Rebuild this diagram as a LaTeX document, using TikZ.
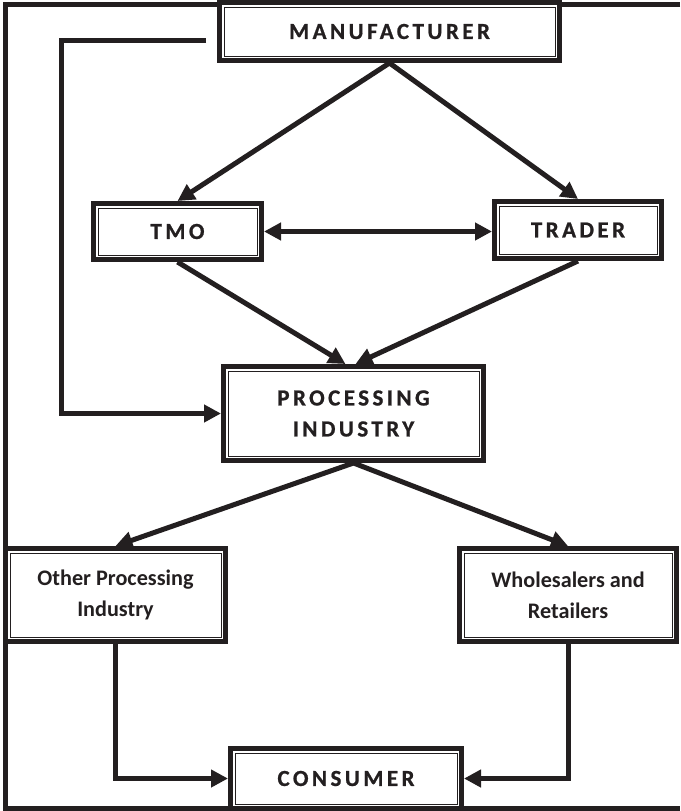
\documentclass[tikz,border=0pt]{standalone}
\usepackage{fontspec}
\setmainfont{Carlito}[BoldFont={Carlito Bold}]
\newfontfamily\capsfont{Carlito Bold}[LetterSpace=15,FakeBold=0.8]
\usetikzlibrary{arrows.meta,calc}
\definecolor{ink}{RGB}{35,31,32}
\begin{document}
\begin{tikzpicture}[x=1pt,y=-1pt,
  box/.style={draw=ink, fill=white, line width=5pt, inner sep=0pt, align=center, text=ink},
  capslabel/.style={font=\capsfont\fontsize{23}{31}\selectfont},
  plainlabel/.style={font=\bfseries\fontsize{22.2}{31}\selectfont},
  conn/.style={draw=ink, line width=5pt, -{Triangle[length=17pt,width=17pt]}},
  frameline/.style={draw=ink, line width=5pt},
  innerline/.style={draw=ink, line width=1pt}]
\useasboundingbox (0,0) rectangle (680,811);
% outer frame
\draw[frameline] (680,4.5) -- (5.5,4.5) -- (5.5,808.5) -- (680,808.5);
% boxes
\node[box, capslabel, minimum width=340pt, minimum height=58pt] (man) at (389.5,31.5) {MANUFACTURER};
\node[box, capslabel, minimum width=168pt, minimum height=56pt] (tmo) at (177.5,231.5) {TMO};
\node[box, capslabel, minimum width=167pt, minimum height=57pt] (trader) at (578,230) {TRADER};
\node[box, capslabel, minimum width=260pt, minimum height=94pt] (proc) at (353.5,413.5) {PROCESSING\\INDUSTRY};
\node[box, plainlabel, minimum width=220pt, minimum height=93pt] (other) at (115.5,595) {Other Processing\\Industry};
\node[box, plainlabel, minimum width=217pt, minimum height=93pt] (whole) at (568,595) {Wholesalers and\\Retailers};
\node[box, capslabel, minimum width=231pt, minimum height=60pt] (cons) at (346,778.5) {CONSUMER};
\foreach \n in {man,tmo,trader,proc,other,whole,cons}
  \draw[innerline] ($(\n.south west)+(7pt,7pt)$) rectangle ($(\n.north east)+(-7pt,-7pt)$);
% connectors
\draw[conn, {Triangle[length=17pt,width=17pt]}-{Triangle[length=17pt,width=17pt]}]
  (tmo.north) -- (man.south) -- (trader.north);
\draw[conn, {Triangle[length=17pt,width=17pt]}-{Triangle[length=17pt,width=17pt]}]
  (tmo.east) -- (tmo.east -| trader.west);
\draw[conn] (tmo.south) -- ([xshift=-8pt]proc.north);
\draw[conn] (trader.south) -- ([xshift=2pt]proc.north);
\draw[conn, {Triangle[length=17pt,width=17pt]}-{Triangle[length=17pt,width=17pt]}]
  (other.north) -- (proc.south) -- (whole.north);
\coordinate (lstart) at (206,40.5);
\coordinate (lx) at (61,40.5);
\draw[conn] (lstart) -- (lx) -- (lx |- proc.west) -- (proc.west);
\draw[conn] (other.south) |- (cons.west);
\draw[conn] (whole.south) |- (cons.east);
\end{tikzpicture}
\end{document}
